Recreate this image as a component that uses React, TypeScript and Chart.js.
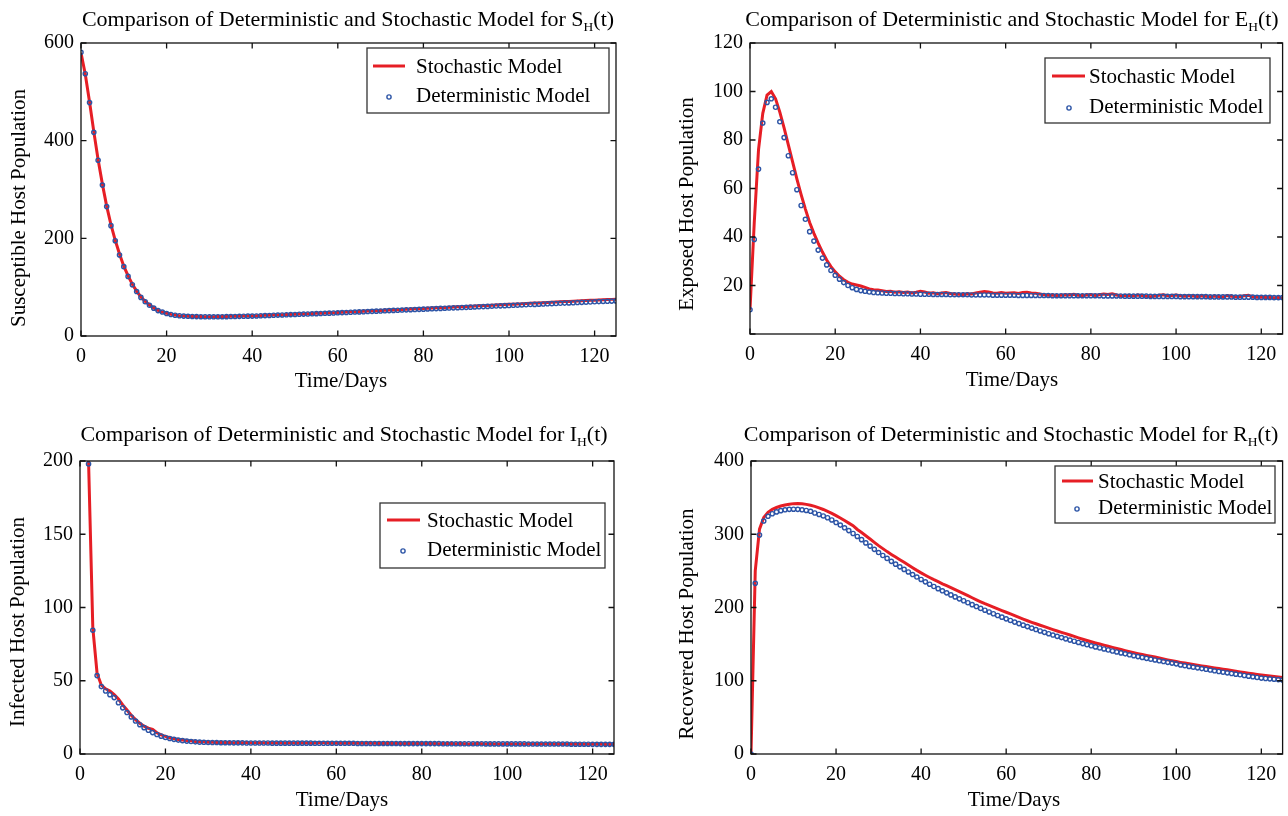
import React, { useEffect, useRef } from 'react';
import { Chart, registerables } from 'chart.js';

Chart.register(...registerables);

// ---------------- data ----------------
const DAYS = Array.from({ length: 126 }, (_, i) => i); // sampling grid, t = 0..125 days

const LEGEND_LABELS = ['Stochastic Model', 'Deterministic Model'];
const X_TITLE = 'Time/Days';
const TITLE_PREFIX = 'Comparison of Deterministic and Stochastic Model for ';
const TITLE_SUB = 'H';
const TITLE_SUFFIX = '(t)';
const X_MAX = 125;
const X_STEP = 20;

const S_DET = [
  581, 537, 478, 417, 360, 309, 265, 226, 195, 166,
  142, 122, 105, 91, 79, 70, 63, 57, 52, 49,
  46, 44, 42.5, 41.5, 40.8, 40.3, 40, 39.7, 39.5, 39.4,
  39.3, 39.3, 39.4, 39.5, 39.6, 39.8, 40, 40.2, 40.4, 40.6,
  40.8, 41.1, 41.5, 41.8, 42.1, 42.5, 42.8, 43.1, 43.5, 43.8,
  44.1, 44.5, 44.8, 45.1, 45.5, 45.8, 46.1, 46.5, 46.8, 47.1,
  47.5, 47.9, 48.2, 48.6, 49.0, 49.4, 49.7, 50.1, 50.5, 50.9,
  51.2, 51.6, 52.0, 52.4, 52.7, 53.1, 53.5, 53.9, 54.2, 54.6,
  55.0, 55.4, 55.7, 56.1, 56.5, 56.9, 57.2, 57.6, 58.0, 58.4,
  58.7, 59.1, 59.5, 59.9, 60.2, 60.6, 61.0, 61.4, 61.7, 62.1,
  62.5, 62.9, 63.2, 63.6, 64.0, 64.4, 64.7, 65.1, 65.5, 65.9,
  66.2, 66.6, 67.0, 67.4, 67.7, 68.1, 68.5, 68.9, 69.2, 69.6,
  70.0, 70.4, 70.8, 71.1, 71.5, 71.9,
];
const S_STO = [
  580, 536, 479, 418, 361, 311, 266, 228, 196, 168,
  143, 123, 106, 92, 80, 71, 63.5, 57.5, 52.5, 49,
  46.5, 44.3, 42.8, 41.6, 40.9, 40.4, 40.1, 39.9, 39.7, 39.6,
  39.6, 39.5, 39.7, 39.8, 39.9, 40.2, 40.3, 40.6, 40.8, 41.0,
  41.2, 41.5, 41.8, 42.3, 42.5, 42.9, 43.2, 43.6, 43.9, 44.2,
  44.6, 45.0, 45.3, 45.6, 46.0, 46.4, 46.7, 47.0, 47.5, 47.8,
  48.2, 48.6, 49.0, 49.4, 49.9, 50.2, 50.6, 51.0, 51.5, 51.8,
  52.2, 52.7, 53.1, 53.4, 53.9, 54.3, 54.8, 55.1, 55.6, 56.0,
  56.5, 56.8, 57.2, 57.7, 58.0, 58.5, 58.9, 59.2, 59.7, 60.1,
  60.5, 61.0, 61.3, 61.8, 62.2, 62.6, 63.1, 63.5, 64.0, 64.3,
  64.8, 65.2, 65.7, 66.0, 66.5, 66.9, 67.4, 67.7, 68.2, 68.6,
  69.1, 69.5, 69.9, 70.4, 70.8, 71.3, 71.7, 72.1, 72.6, 73.0,
  73.4, 73.8, 74.3, 74.7, 75.0, 75.4,
];

const E_DET = [
  10, 39, 68, 87, 95.5, 97, 93.5, 87.5, 81, 73.5,
  66.5, 59.5, 53, 47.3, 42.2, 38.3, 34.6, 31.3, 28.5, 26.2,
  24.2, 22.6, 21.2, 20.0, 19.1, 18.4, 17.9, 17.6, 17.3, 17.1,
  17.0, 16.9, 16.8, 16.8, 16.7, 16.7, 16.6, 16.6, 16.5, 16.5,
  16.4, 16.4, 16.4, 16.3, 16.3, 16.3, 16.3, 16.2, 16.2, 16.2,
  16.2, 16.2, 16.1, 16.1, 16.1, 16.1, 16.1, 16.0, 16.0, 16.0,
  16.0, 16.0, 16.0, 15.9, 15.9, 15.9, 15.9, 15.9, 15.9, 15.9,
  15.9, 15.8, 15.8, 15.8, 15.8, 15.8, 15.8, 15.8, 15.8, 15.8,
  15.8, 15.8, 15.8, 15.7, 15.7, 15.7, 15.7, 15.7, 15.6, 15.6,
  15.6, 15.6, 15.6, 15.6, 15.5, 15.5, 15.5, 15.5, 15.5, 15.5,
  15.5, 15.4, 15.4, 15.4, 15.4, 15.4, 15.4, 15.4, 15.3, 15.3,
  15.3, 15.3, 15.3, 15.3, 15.2, 15.2, 15.2, 15.2, 15.2, 15.1,
  15.1, 15.1, 15.1, 15.0, 15.0, 15.0,
];
const E_STO = [
  10, 46, 76, 91, 98.5, 100, 97, 91.5, 85, 78,
  71, 64, 57.5, 51.5, 46, 41.5, 37.5, 33.8, 30.5, 27.8,
  25.6, 23.8, 22.4, 21.3, 20.6, 20.2, 19.8, 19.2, 18.6, 18.3,
  18.1, 17.8, 17.5, 17.6, 17.2, 17.4, 17.1, 17.3, 16.9, 17.2,
  17.6, 17.3, 16.8, 17.0, 16.6, 16.9, 17.1, 16.7, 16.5, 16.4,
  16.3, 16.6, 16.5, 16.9, 17.2, 17.5, 17.3, 16.9, 16.8, 17.1,
  16.8, 16.9, 17.0, 16.7, 17.1, 17.2, 16.9, 16.8, 16.5, 16.2,
  16.0, 16.1, 15.9, 16.0, 16.2, 16.1, 16.4, 16.0, 15.9, 16.1,
  16.3, 15.9, 16.2, 16.5, 16.3, 16.6, 16.1, 15.8, 15.9, 16.0,
  15.7, 16.1, 15.9, 15.6, 15.4, 15.7, 16.0, 16.2, 15.8, 15.9,
  16.1, 15.8, 15.6, 15.9, 15.7, 15.5, 15.8, 15.6, 15.4, 15.7,
  15.5, 15.3, 15.9, 15.6, 15.4, 15.5, 15.8, 16.0, 15.3, 15.2,
  15.3, 15.1, 15.2, 15.0, 15.1, 14.9,
];

const I_DET = [
  520, 340, 198, 84.5, 53.5, 46, 43, 40.5, 38.5, 35,
  31.5, 28.3, 25.3, 22.5, 20, 18, 16.2, 14.6, 13.3, 12.2,
  11.3, 10.6, 10.0, 9.5, 9.1, 8.8, 8.5, 8.3, 8.1, 8.0,
  7.9, 7.8, 7.8, 7.7, 7.7, 7.7, 7.6, 7.6, 7.6, 7.5,
  7.5, 7.5, 7.5, 7.5, 7.5, 7.4, 7.4, 7.4, 7.4, 7.4,
  7.4, 7.4, 7.4, 7.4, 7.4, 7.3, 7.3, 7.3, 7.3, 7.3,
  7.3, 7.3, 7.3, 7.3, 7.3, 7.2, 7.2, 7.2, 7.2, 7.2,
  7.2, 7.2, 7.2, 7.2, 7.2, 7.1, 7.1, 7.1, 7.1, 7.1,
  7.1, 7.1, 7.1, 7.1, 7.1, 7.0, 7.0, 7.0, 7.0, 7.0,
  7.0, 7.0, 7.0, 7.0, 7.0, 6.9, 6.9, 6.9, 6.9, 6.9,
  6.9, 6.9, 6.9, 6.9, 6.9, 6.8, 6.8, 6.8, 6.8, 6.8,
  6.8, 6.8, 6.8, 6.8, 6.8, 6.7, 6.7, 6.7, 6.7, 6.7,
  6.6, 6.6, 6.6, 6.6, 6.6, 6.6,
];
const I_STO = [
  520, 345, 200, 86, 55, 47, 44.5, 43, 40.5, 37.5,
  33.5, 30, 26.5, 23.5, 21, 19, 17.6, 16.8, 14.5, 13,
  12, 11.1, 10.5, 9.9, 9.5, 9.2, 9.0, 8.6, 8.4, 8.3,
  8.1, 8.0, 7.9, 8.0, 7.8, 7.9, 7.7, 7.8, 7.7, 7.8,
  7.6, 7.7, 7.6, 7.7, 7.5, 7.6, 7.5, 7.6, 7.4, 7.5,
  7.5, 7.4, 7.6, 7.5, 7.4, 7.5, 7.6, 7.7, 7.5, 7.4,
  7.4, 7.5, 7.4, 7.3, 7.4, 7.3, 7.4, 7.5, 7.4, 7.3,
  7.2, 7.3, 7.2, 7.3, 7.2, 7.1, 7.2, 7.3, 7.2, 7.1,
  7.2, 7.1, 7.2, 7.1, 7.0, 7.1, 7.2, 7.1, 7.0, 7.1,
  7.0, 6.9, 7.0, 7.1, 7.0, 6.9, 7.0, 6.9, 6.8, 6.9,
  7.0, 6.9, 6.8, 6.9, 6.8, 6.9, 6.8, 6.7, 6.8, 6.9,
  6.8, 6.7, 6.8, 6.7, 6.6, 6.7, 6.8, 6.7, 6.6, 6.7,
  6.6, 6.7, 6.6, 6.5, 6.6, 6.5,
];

const R_DET = [
  0, 233, 299, 318, 324.5, 328, 330.5, 332.2, 333.4, 334,
  334.2, 334, 333.4, 332.5, 331.3, 329, 327, 325, 322.5, 319.5,
  316, 312.5, 308.8, 305, 301, 297, 292.6, 288.2, 283.8, 279.4,
  275, 271, 267, 263, 259.2, 255.5, 252, 248.5, 245, 241.6,
  238.3, 235, 231.8, 228.7, 225.7, 222.8, 220, 217.2, 214.5, 211.8,
  209.2, 206.5, 203.9, 201.3, 198.8, 196.3, 193.9, 191.5, 189.1, 186.8,
  184.5, 182.3, 180.1, 178, 175.9, 173.9, 171.9, 169.9, 168, 166.1,
  164.2, 162.4, 160.6, 158.9, 157.2, 155.5, 153.9, 152.3, 150.7, 149.2,
  147.7, 146.2, 144.8, 143.4, 142, 140.6, 139.3, 138, 136.7, 135.4,
  134.2, 133, 131.8, 130.6, 129.5, 128.4, 127.3, 126.2, 125.1, 124.1,
  123.1, 121.6, 120.6, 119.6, 118.6, 117.6, 116.6, 115.6, 114.6, 113.6,
  112.6, 111.7, 110.8, 109.9, 109, 108.1, 107.2, 106.3, 105.4, 104.5,
  103.6, 103.1, 102.6, 102.1, 101.6, 101.1,
];
const R_STO = [
  0, 250, 307, 323, 330, 334, 336.5, 338.5, 340, 341,
  341.8, 342, 341.7, 340.8, 339.5, 338, 336, 333.8, 331.3, 328.5,
  325.5, 322.2, 318.8, 315.2, 311.7, 306.5, 302.3, 298, 293.6, 289,
  284.5, 280.4, 276.3, 272.5, 268.8, 265.2, 261.7, 258, 254.3, 250.7,
  247.3, 244.1, 241.0, 238.0, 235.2, 232.4, 229.8, 227.1, 224.4, 221.7,
  219.0, 216.1, 213.3, 210.5, 207.8, 205.2, 202.8, 200.4, 198.1, 195.8,
  193.5, 191.2, 188.8, 186.4, 184.1, 181.9, 179.8, 177.8, 175.8, 173.8,
  171.8, 169.8, 167.9, 166.1, 164.3, 162.4, 160.5, 158.6, 156.7, 154.9,
  153.2, 151.6, 150.1, 148.6, 147.1, 145.6, 144.1, 142.6, 141.1, 139.7,
  138.3, 137.0, 135.8, 134.6, 133.5, 132.3, 131.0, 129.7, 128.5, 127.3,
  126.2, 125.1, 124.1, 123.1, 122.2, 121.2, 120.3, 119.4, 118.5, 117.5,
  116.6, 115.8, 114.9, 114.0, 113.0, 112.1, 111.2, 110.4, 109.5, 108.7,
  107.9, 107.1, 106.4, 105.7, 105.0, 104.4,
];

// ---------------- styling / layout ----------------
const FONT = '"Liberation Serif", "Times New Roman", serif';
const RED = '#e61e25';
const BLUE = '#2c54a6';
const W = 644;
const H = 408;

type Legend = { x: number; y: number; w: number; h: number; l0: number; l1: number; tx: number; r1: number; r2: number; mx: number };
type PanelCfg = {
  key: string;
  letter: string;
  yLabel: string;
  sto: number[];
  det: number[];
  yMax: number;
  yStep: number;
  hideZero: boolean;
  left: number;
  top: number;
  area: { l: number; t: number; r: number; b: number };
  titleX: number;
  titleBase: number;
  xTitleX: number;
  xTitleY: number;
  yTitleX: number;
  yTitleY: number;
  legend: Legend;
};

const PANELS: PanelCfg[] = [
  {
    key: 'S', letter: 'S', yLabel: 'Susceptible Host Population', sto: S_STO, det: S_DET,
    yMax: 600, yStep: 200, hideZero: false, left: 0, top: 0,
    area: { l: 81, t: 43, r: 616, b: 336 },
    titleX: 348, titleBase: 26, xTitleX: 341, xTitleY: 381, yTitleX: 19, yTitleY: 208,
    legend: { x: 367, y: 48, w: 242, h: 65, l0: 373, l1: 405, tx: 416, r1: 67, r2: 96, mx: 389 },
  },
  {
    key: 'E', letter: 'E', yLabel: 'Exposed Host Population', sto: E_STO, det: E_DET,
    yMax: 120, yStep: 20, hideZero: true, left: 644, top: 0,
    area: { l: 106, t: 43, r: 641, b: 334 },
    titleX: 368, titleBase: 26, xTitleX: 368, xTitleY: 380, yTitleX: 43, yTitleY: 204,
    legend: { x: 401, y: 58, w: 225, h: 65, l0: 408, l1: 441, tx: 445, r1: 77, r2: 107, mx: 425 },
  },
  {
    key: 'I', letter: 'I', yLabel: 'Infected Host Population', sto: I_STO, det: I_DET,
    yMax: 200, yStep: 50, hideZero: false, left: 0, top: 408,
    area: { l: 80, t: 53, r: 614, b: 346 },
    titleX: 344, titleBase: 33, xTitleX: 342, xTitleY: 392, yTitleX: 18, yTitleY: 214,
    legend: { x: 380, y: 95, w: 225, h: 65, l0: 387, l1: 420, tx: 427, r1: 113, r2: 142, mx: 403 },
  },
  {
    key: 'R', letter: 'R', yLabel: 'Recovered Host Population', sto: R_STO, det: R_DET,
    yMax: 400, yStep: 100, hideZero: false, left: 644, top: 408,
    area: { l: 107, t: 53, r: 641, b: 346 },
    titleX: 367, titleBase: 33, xTitleX: 370, xTitleY: 392, yTitleX: 43, yTitleY: 216,
    legend: { x: 411, y: 58, w: 220, h: 57, l0: 418, l1: 449, tx: 454, r1: 74, r2: 100, mx: 433 },
  },
];

function makeDecor(p: PanelCfg) {
  return {
    id: 'decor' + p.key,
    afterDraw(chart: any) {
      const { ctx, chartArea: a } = chart;
      const xs = chart.scales.x;
      const ys = chart.scales.y;
      ctx.save();

      // axes box
      ctx.strokeStyle = '#111';
      ctx.lineWidth = 1.3;
      ctx.strokeRect(a.left, a.top, a.right - a.left, a.bottom - a.top);

      // inward tick marks on all four sides
      const TL = 5.5;
      ctx.beginPath();
      for (const t of xs.ticks) {
        const px = xs.getPixelForValue(t.value);
        ctx.moveTo(px, a.bottom);
        ctx.lineTo(px, a.bottom - TL);
        ctx.moveTo(px, a.top);
        ctx.lineTo(px, a.top + TL);
      }
      for (const t of ys.ticks) {
        const py = ys.getPixelForValue(t.value);
        ctx.moveTo(a.left, py);
        ctx.lineTo(a.left + TL, py);
        ctx.moveTo(a.right, py);
        ctx.lineTo(a.right - TL, py);
      }
      ctx.stroke();

      // legend
      const L = p.legend;
      ctx.fillStyle = '#fff';
      ctx.fillRect(L.x, L.y, L.w, L.h);
      ctx.strokeStyle = '#333';
      ctx.lineWidth = 1.3;
      ctx.strokeRect(L.x, L.y, L.w, L.h);
      ctx.strokeStyle = RED;
      ctx.lineWidth = 3;
      ctx.beginPath();
      ctx.moveTo(L.l0, L.r1 - 1);
      ctx.lineTo(L.l1, L.r1 - 1);
      ctx.stroke();
      ctx.strokeStyle = BLUE;
      ctx.lineWidth = 1.4;
      ctx.beginPath();
      ctx.arc(L.mx, L.r2 + 1, 2.1, 0, Math.PI * 2);
      ctx.stroke();
      ctx.fillStyle = '#000';
      ctx.font = `21px ${FONT}`;
      ctx.textAlign = 'left';
      ctx.textBaseline = 'middle';
      ctx.fillText(LEGEND_LABELS[0], L.tx, L.r1);
      ctx.fillText(LEGEND_LABELS[1], L.tx, L.r2);

      // plot title with subscript
      ctx.textBaseline = 'alphabetic';
      const main = TITLE_PREFIX + p.letter;
      ctx.font = `22px ${FONT}`;
      const w1 = ctx.measureText(main).width;
      const w3 = ctx.measureText(TITLE_SUFFIX).width;
      ctx.font = `13.5px ${FONT}`;
      const w2 = ctx.measureText(TITLE_SUB).width;
      let x = p.titleX - (w1 + w2 + w3) / 2;
      ctx.font = `22px ${FONT}`;
      ctx.fillText(main, x, p.titleBase);
      x += w1;
      ctx.font = `13.5px ${FONT}`;
      ctx.fillText(TITLE_SUB, x, p.titleBase + 5);
      x += w2;
      ctx.font = `22px ${FONT}`;
      ctx.fillText(TITLE_SUFFIX, x, p.titleBase);

      // axis titles
      ctx.font = `21px ${FONT}`;
      ctx.textAlign = 'center';
      ctx.textBaseline = 'middle';
      ctx.fillText(X_TITLE, p.xTitleX, p.xTitleY);
      ctx.translate(p.yTitleX, p.yTitleY);
      ctx.rotate(-Math.PI / 2);
      ctx.fillText(p.yLabel, 0, 0);

      ctx.restore();
    },
  };
}

function PanelChart({ p }: { p: PanelCfg }) {
  const ref = useRef<HTMLCanvasElement | null>(null);
  useEffect(() => {
    if (!ref.current) return;
    const chart = new Chart(ref.current, {
      type: 'line',
      data: {
        labels: DAYS,
        datasets: [
          {
            label: LEGEND_LABELS[0],
            data: p.sto,
            borderColor: RED,
            backgroundColor: RED,
            borderWidth: 3,
            pointRadius: 0,
            tension: 0,
            order: 2,
          },
          {
            label: LEGEND_LABELS[1],
            data: p.det,
            showLine: false,
            borderColor: BLUE,
            pointRadius: 2.1,
            pointBorderWidth: 1.4,
            pointBorderColor: BLUE,
            pointBackgroundColor: 'rgba(255,255,255,0)',
            order: 1,
          },
        ],
      },
      options: {
        responsive: false,
        animation: false,
        devicePixelRatio: 1,
        events: [],
        layout: { padding: { left: 0, top: p.area.t, right: W - p.area.r, bottom: 0 } },
        plugins: {
          legend: { display: false },
          tooltip: { enabled: false },
          title: { display: false },
        },
        scales: {
          x: {
            type: 'linear',
            min: 0,
            max: X_MAX,
            afterFit: (s: any) => {
              s.height = H - p.area.b;
            },
            grid: { display: false, drawTicks: false },
            border: { display: false },
            ticks: {
              stepSize: X_STEP,
              includeBounds: false,
              autoSkip: false,
              maxRotation: 0,
              padding: 9,
              color: '#000',
              font: { family: FONT, size: 20 },
            },
          },
          y: {
            type: 'linear',
            min: 0,
            max: p.yMax,
            afterFit: (s: any) => {
              s.width = p.area.l;
            },
            grid: { display: false, drawTicks: false },
            border: { display: false },
            ticks: {
              stepSize: p.yStep,
              includeBounds: false,
              autoSkip: false,
              padding: 7,
              color: '#000',
              font: { family: FONT, size: 20 },
              callback: (v: any) => (p.hideZero && Number(v) === 0 ? '' : String(v)),
            },
          },
        },
      } as any,
      plugins: [makeDecor(p)],
    });
    return () => chart.destroy();
  }, [p]);
  return (
    <canvas
      ref={ref}
      width={W}
      height={H}
      style={{ position: 'absolute', left: p.left, top: p.top, width: W, height: H, display: 'block' }}
    />
  );
}

export default function App() {
  return (
    <div style={{ position: 'fixed', left: 0, top: 0, width: 1288, height: 816, background: '#fff', overflow: 'hidden' }}>
      {PANELS.map((p) => (
        <PanelChart key={p.key} p={p} />
      ))}
    </div>
  );
}
